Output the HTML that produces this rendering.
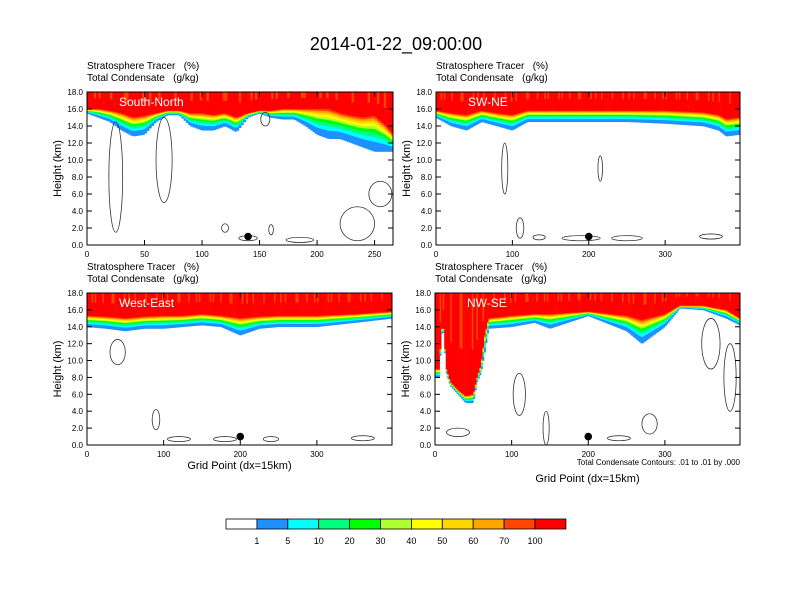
<!DOCTYPE html>
<html><head><meta charset="utf-8"><style>
body{margin:0;background:#fff}
svg{display:block;font-family:"Liberation Sans",sans-serif}
text{white-space:pre}
</style></head><body>
<svg id="c" width="792" height="612" viewBox="0 0 792 612">
<text x="396" y="50" text-anchor="middle" font-size="18">2014-01-22_09:00:00</text>
</svg>
<script>
// Data: tracer base height (km, >1%) and red level base (km) sampled along grid points
const p1x=[0,10,20,30,40,50,60,70,80,90,100,110,120,130,140,150,160,170,180,190,200,210,220,230,240,250,260,266];
const p1base=[15.5,15,14.5,13.5,12.8,13,14.5,15.3,15.3,14,13.5,13.5,14,13.3,15,15.5,15,14.8,14.8,14,13,12.5,12.5,12,11.5,11,11,11];
const p1red=[16,16,15.8,15.5,15,15.2,15.5,15.8,15.8,15.5,15.5,15.3,15.5,15,15.5,15.8,15.8,16,16,16,16,16,15.5,15.2,15,15.2,14,13];
const p2x=[0,20,40,60,80,100,120,150,200,250,300,350,370,380,398];
const p2base=[15,14,13.5,14.5,14,13.5,14.5,14.5,14.5,14.5,14.3,14,13.5,12.8,13];
const p2red=[15.8,15.5,15.3,15.8,15.5,15.3,15.8,15.8,15.8,15.8,15.8,15.6,15.3,14.8,15];
const p3x=[0,25,50,75,100,125,150,175,200,225,250,300,350,398];
const p3base=[14,13.8,13.5,13.8,13.8,14,14.2,14,13,13.8,14,14,14.5,15];
const p3red=[15.3,15.2,15,15.2,15.3,15.3,15.5,15.3,15,15.2,15.3,15.3,15.5,15.8];
const p4x=[0,5,10,15,20,30,40,50,55,60,65,70,100,130,150,200,250,270,300,320,350,380,398];
const p4base=[8,8,14.5,8.5,7,6,5,5,7.5,8.5,11,13.8,14,14.5,13.8,15.3,13.5,12,14,16.2,16,15,14.2];
const p4red=[9,9,15,9,7.5,6.5,5.8,6,8,9.5,13,15,15.3,15.5,15.5,15.8,15.3,14.8,15.5,16.5,16.5,16,15];
const levelColors=["#1e90ff","#00ffff","#00ff7f","#00ff00","#adff2f","#ffff00","#ffd700","#ffa500","#ff4500","#ff0000"];
const levelLabels=["1","5","10","20","30","40","50","60","70","100"];
// contour ellipses (grid x, km y, rx grid, ry km) per panel
const c1=[[25,8,6,6.5],[67,10,7,5],[155,14.8,4,0.8],[235,2.5,15,2],[255,6,10,1.5],[140,0.8,8,0.3],[185,0.6,12,0.3],[120,2,3,0.5],[160,1.8,2,0.6]];
const c2=[[90,9,4,3],[110,2,5,1.2],[190,0.8,25,0.3],[250,0.8,20,0.3],[360,1,15,0.3],[215,9,3,1.5],[135,0.9,8,0.3]];
const c3=[[40,11,10,1.5],[180,0.7,15,0.3],[120,0.7,15,0.3],[360,0.8,15,0.3],[90,3,5,1.2],[240,0.7,10,0.3]];
const c4=[[360,12,12,3],[110,6,8,2.5],[145,2,4,2],[280,2.5,10,1.2],[30,1.5,15,0.5],[385,8,8,4],[240,0.8,15,0.3]];
const contours=[c1,c2,c3,c4];

const NS="http://www.w3.org/2000/svg";
const svg=document.getElementById('c');
function mk(t,a,p){const e=document.createElementNS(NS,t);for(const k in a)e.setAttribute(k,a[k]);(p||svg).appendChild(e);return e;}
function interp(xs,ys,x){if(x<=xs[0])return ys[0];for(let i=1;i<xs.length;i++){if(x<=xs[i]){const t=(x-xs[i-1])/(xs[i]-xs[i-1]);return ys[i-1]+t*(ys[i]-ys[i-1]);}}return ys[ys.length-1];}
const bandW=[0.28,0.14,0.12,0.1,0.08,0.08,0.07,0.07,0.06];

const panels=[
 {x0:87,x1:393,y0:92,y1:245,xmax:266,ticks:[0,50,100,150,200,250],xs:p1x,base:p1base,red:p1red,lab:"South-North",dot:140,xt:false},
 {x0:436,x1:740,y0:92,y1:245,xmax:398,ticks:[0,100,200,300],xs:p2x,base:p2base,red:p2red,lab:"SW-NE",dot:200,xt:false},
 {x0:87,x1:392,y0:293,y1:445,xmax:398,ticks:[0,100,200,300],xs:p3x,base:p3base,red:p3red,lab:"West-East",dot:200,xt:true},
 {x0:435,x1:740,y0:293,y1:445,xmax:398,ticks:[0,100,200,300],xs:p4x,base:p4base,red:p4red,lab:"NW-SE",dot:200,xt:true}
];
panels.forEach((P,pi)=>{
  const g=mk('g',{});
  
  
  const sx=v=>P.x0+v/P.xmax*(P.x1-P.x0);
  const sy=v=>P.y1-v/18*(P.y1-P.y0);
  const hdr1=mk('text',{x:P.x0,y:P.y0-23,'font-size':10},g);hdr1.textContent="Stratosphere Tracer   (%)";
  
  const hdr2=mk('text',{x:P.x0,y:P.y0-11,'font-size':10},g);hdr2.textContent="Total Condensate   (g/kg)";
  
  const step=2;
  for(let v=0;v<P.xmax;v+=step){
    const b=interp(P.xs,P.base,v+step/2), r=interp(P.xs,P.red,v+step/2);
    const xa=sx(v), w=sx(v+step)-xa+0.3;
    const rr=mk('rect',{x:xa,y:sy(18),width:w,height:sy(r)-sy(18)+0.3,fill:levelColors[9]},g);
    
    let lo=b;
    for(let k=0;k<9;k++){
      const hi=lo+(r-b)*bandW[k];
      const c=mk('rect',{x:xa,y:sy(hi),width:w,height:sy(lo)-sy(hi)+0.3,fill:levelColors[k]},g);
      
      lo=hi;
    }
    if((v/step)%7===3||(v/step)%11===5){const s=mk('rect',{x:xa,y:sy(18),width:w,height:(sy(r+0.8)-sy(18))*0.6,fill:"#ff4500"},g);
      }
  }
  contours[pi].forEach(c=>{
    const e=mk('ellipse',{cx:sx(c[0]),cy:sy(c[1]),rx:c[2]/P.xmax*(P.x1-P.x0),ry:c[3]/18*(P.y1-P.y0),fill:'none',stroke:'#333','stroke-width':0.8},g);
    
  });
  const lb=mk('text',{x:P.x0+32,y:P.y0+14,'font-size':12,fill:'#fff'},g);lb.textContent=P.lab;
  
  const d=mk('circle',{cx:sx(P.dot),cy:sy(1),r:3.8,fill:'#000'},g);
  
  const fr=mk('rect',{x:P.x0,y:P.y0,width:P.x1-P.x0,height:P.y1-P.y0,fill:'none',stroke:'#000','stroke-width':1},g);
  
  for(let h=0;h<=18;h+=2){
    mk('line',{x1:P.x0,x2:P.x0+5,y1:sy(h),y2:sy(h),stroke:'#000'},g);
    mk('line',{x1:P.x1,x2:P.x1-5,y1:sy(h),y2:sy(h),stroke:'#000'},g);
    const t=mk('text',{x:P.x0-4,y:sy(h)+3,'font-size':8,'text-anchor':'end'},g);t.textContent=h.toFixed(1);
    
  }
  P.ticks.forEach(v=>{
    mk('line',{x1:sx(v),x2:sx(v),y1:P.y1,y2:P.y1-5,stroke:'#000'},g);
    mk('line',{x1:sx(v),x2:sx(v),y1:P.y0,y2:P.y0+5,stroke:'#000'},g);
    const t=mk('text',{x:sx(v),y:P.y1+12,'font-size':8,'text-anchor':'middle'},g);t.textContent=v;
    
  });
  const yt=mk('text',{x:0,y:0,'font-size':11,'text-anchor':'middle',transform:`translate(${P.x0-26},${(P.y0+P.y1)/2}) rotate(-90)`},g);
  yt.textContent="Height (km)";
  if(P.xt){
    const xy=pi===3?482:469;
    const xt=mk('text',{x:(P.x0+P.x1)/2,y:xy,'font-size':11,'text-anchor':'middle'},g);xt.textContent="Grid Point (dx=15km)";
    
  }
  if(pi===3){
    const n=mk('text',{x:P.x1,y:465,'font-size':8,'text-anchor':'end'},g);n.textContent="Total Condensate Contours: .01 to .01 by .000";
    
  }
});
const cb=mk('g',{});
const cx0=226,cw=30.9;
const allC=["#ffffff"].concat(levelColors);
allC.forEach((c,i)=>{const r=mk('rect',{x:cx0+i*cw,y:519,width:cw,height:10,fill:c,stroke:'#000','stroke-width':0.8},cb);
  });
levelLabels.forEach((l,i)=>{const t=mk('text',{x:cx0+(i+1)*cw,y:544,'font-size':9,'text-anchor':'middle'},cb);t.textContent=l;
  });
</script>
</body></html>
